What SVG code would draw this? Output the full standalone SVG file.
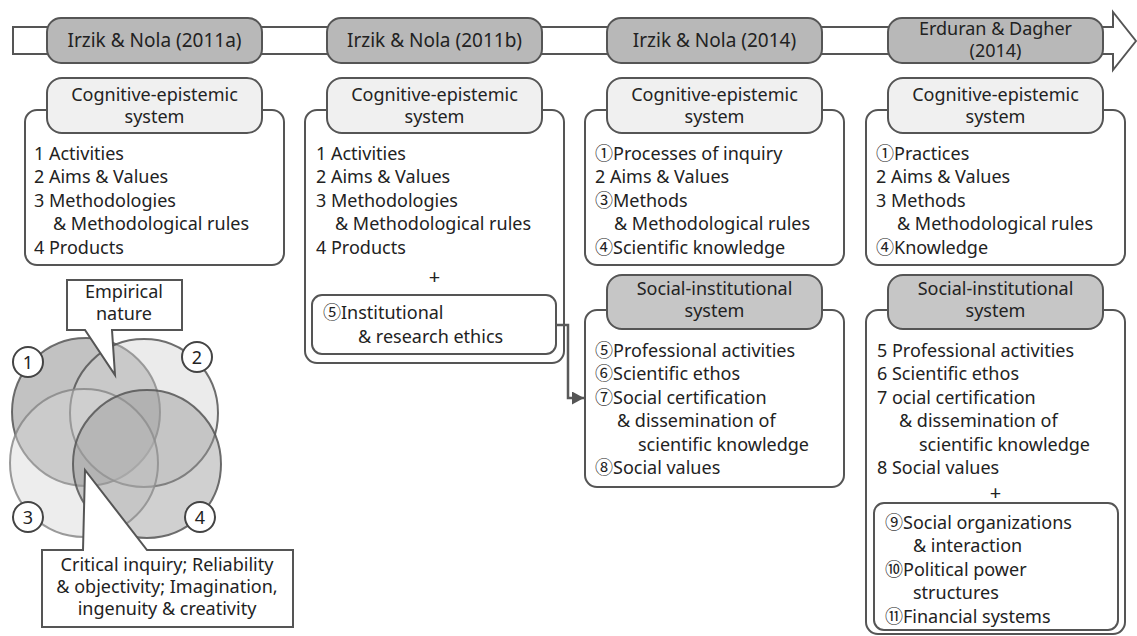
<svg xmlns="http://www.w3.org/2000/svg" width="1137" height="636" viewBox="0 0 1137 636">
<defs>
<style>
text{font-family:"Noto Sans","Noto Sans CJK KR",sans-serif;font-size:18px;fill:#222}
.c{text-anchor:middle}
.box{fill:#fff;stroke:#555;stroke-width:2}
.th{fill:#b8b8b8;stroke:#555;stroke-width:2}
.ch{fill:#f0f0f0;stroke:#555;stroke-width:2}
.sh{fill:#c6c6c6;stroke:#555;stroke-width:2}
.ven{stroke:#555;stroke-width:2;stroke-opacity:0.85}
.num{fill:#fff;stroke:#444;stroke-width:2}
.conn{fill:none;stroke:#5a5a5a;stroke-width:2.5}
</style>
<marker id="arr" markerWidth="12" markerHeight="13" refX="12" refY="6.5" orient="auto" markerUnits="userSpaceOnUse">
<path d="M0,0 L12,6.5 L0,13 Z" fill="#555"/>
</marker>
</defs>
<rect width="1137" height="636" fill="#fff"/>

<g id="timeline">
<polygon points="13,27 1113,27 1113,12 1136,41 1113,70 1113,54 13,54" fill="#fff" stroke="#555" stroke-width="2"/>
</g>
<g id="t1"><rect class="th" x="47" y="18" width="215" height="45" rx="14"/><text class="c" x="154.5" y="46.5" style="font-size:19px">Irzik &amp; Nola (2011a)</text></g>
<g id="t2"><rect class="th" x="327" y="18" width="215" height="45" rx="14"/><text class="c" x="434.5" y="46.5" style="font-size:19px">Irzik &amp; Nola (2011b)</text></g>
<g id="t3"><rect class="th" x="607" y="18" width="215" height="45" rx="14"/><text class="c" x="714.5" y="46.5" style="font-size:19px">Irzik &amp; Nola (2014)</text></g>
<g id="t4"><rect class="th" x="888" y="18" width="215" height="45" rx="14"/><text class="c" x="995.5" y="35"><tspan x="995.5">Erduran &amp; Dagher</tspan><tspan x="995.5" dy="22">(2014)</tspan></text></g>

<g id="col1-cog">
<rect class="box" x="25" y="110" width="259" height="155" rx="12"/>
<rect class="ch" x="47" y="78" width="215" height="55" rx="15"/>
<text class="c" x="154.5" y="101"><tspan x="154.5">Cognitive-epistemic</tspan><tspan x="154.5" dy="22">system</tspan></text>
<text x="34" y="159.5">1 Activities</text>
<text x="34" y="183">2 Aims &amp; Values</text>
<text x="34" y="206.5">3 Methodologies</text>
<text x="53" y="230">&amp; Methodological rules</text>
<text x="34" y="253.5">4 Products</text>
</g>

<g id="col2-cog">
<rect class="box" x="305" y="110" width="259" height="253" rx="12"/>
<rect class="ch" x="327" y="78" width="215" height="55" rx="15"/>
<text class="c" x="434.5" y="101"><tspan x="434.5">Cognitive-epistemic</tspan><tspan x="434.5" dy="22">system</tspan></text>
<text x="316" y="159.5">1 Activities</text>
<text x="316" y="183">2 Aims &amp; Values</text>
<text x="316" y="206.5">3 Methodologies</text>
<text x="335" y="230">&amp; Methodological rules</text>
<text x="316" y="253.5">4 Products</text>
<text class="c" x="434.5" y="284" style="font-size:20px">+</text>
</g>
<g id="col2-ethics">
<rect class="box" x="312" y="295" width="244" height="59" rx="10"/>
<text x="323" y="318.5">⑤Institutional</text>
<text x="358" y="342.5">&amp; research ethics</text>
</g>

<g id="col3-cog">
<rect class="box" x="585" y="110" width="259" height="155" rx="12"/>
<rect class="ch" x="607" y="78" width="215" height="55" rx="15"/>
<text class="c" x="714.5" y="101"><tspan x="714.5">Cognitive-epistemic</tspan><tspan x="714.5" dy="22">system</tspan></text>
<text x="595" y="159.5">①Processes of inquiry</text>
<text x="595" y="183">2 Aims &amp; Values</text>
<text x="595" y="206.5">③Methods</text>
<text x="614" y="230">&amp; Methodological rules</text>
<text x="595" y="253.5">④Scientific knowledge</text>
</g>

<g id="col3-soc">
<rect class="box" x="585" y="310" width="259" height="177" rx="12"/>
<rect class="sh" x="607" y="275" width="215" height="54" rx="15"/>
<text class="c" x="714.5" y="295"><tspan x="714.5">Social-institutional</tspan><tspan x="714.5" dy="22">system</tspan></text>
<text x="595" y="356.5">⑤Professional activities</text>
<text x="595" y="380">⑥Scientific ethos</text>
<text x="595" y="403.5">⑦Social certification</text>
<text x="617" y="427">&amp; dissemination of</text>
<text x="638" y="450.5">scientific knowledge</text>
<text x="595" y="474">⑧Social values</text>
</g>

<g id="col4-cog">
<rect class="box" x="866" y="110" width="259" height="155" rx="12"/>
<rect class="ch" x="888" y="78" width="215" height="55" rx="15"/>
<text class="c" x="995.5" y="101"><tspan x="995.5">Cognitive-epistemic</tspan><tspan x="995.5" dy="22">system</tspan></text>
<text x="876" y="159.5">①Practices</text>
<text x="876" y="183">2 Aims &amp; Values</text>
<text x="876" y="206.5">3 Methods</text>
<text x="897" y="230">&amp; Methodological rules</text>
<text x="876" y="253.5">④Knowledge</text>
</g>

<g id="col4-soc">
<rect class="box" x="866" y="310" width="259" height="324" rx="12"/>
<rect class="sh" x="888" y="275" width="215" height="54" rx="15"/>
<text class="c" x="995.5" y="295"><tspan x="995.5">Social-institutional</tspan><tspan x="995.5" dy="22">system</tspan></text>
<text x="877" y="356.5">5 Professional activities</text>
<text x="877" y="380">6 Scientific ethos</text>
<text x="877" y="403.5">7 ocial certification</text>
<text x="899" y="427">&amp; dissemination of</text>
<text x="919" y="450.5">scientific knowledge</text>
<text x="877" y="474">8 Social values</text>
<text class="c" x="995.5" y="500" style="font-size:20px">+</text>
</g>
<g id="col4-extra">
<rect class="box" x="874" y="503" width="244" height="127" rx="10"/>
<text x="885" y="528.5">⑨Social organizations</text>
<text x="913" y="552">&amp; interaction</text>
<text x="885" y="575.5">⑩Political power</text>
<text x="913" y="599">structures</text>
<text x="885" y="622.5">⑪Financial systems</text>
</g>

<g id="venn">
<circle class="ven" cx="86" cy="412" r="74" fill="rgba(120,120,120,0.45)"/>
<circle class="ven" cx="144" cy="413" r="74" fill="rgba(210,210,210,0.45)"/>
<circle class="ven" cx="84" cy="463" r="74" fill="rgba(215,215,215,0.45)" style="stroke:#888"/>
<circle class="ven" cx="147" cy="464" r="74" fill="rgba(150,150,150,0.45)"/>
</g>
<g id="n1"><circle class="num" cx="28" cy="362" r="15"/><text class="c" x="28" y="368.5">1</text></g>
<g id="n2"><circle class="num" cx="197" cy="357" r="15"/><text class="c" x="197" y="363.5">2</text></g>
<g id="n3"><circle class="num" cx="28" cy="517" r="15"/><text class="c" x="28" y="523.5">3</text></g>
<g id="n4"><circle class="num" cx="200" cy="517" r="15"/><text class="c" x="200" y="523.5">4</text></g>

<g id="empirical">
<path class="box" d="M67,280 H182 V330 H112 L115,375 L85,330 H67 Z"/>
<text class="c" x="124" y="297.5"><tspan x="124">Empirical</tspan><tspan x="124" dy="22">nature</tspan></text>
</g>
<g id="critical">
<path class="box" d="M42,550 H83 L85,470 L147,550 H293 V627 H42 Z"/>
<text class="c" x="167" y="571"><tspan x="167">Critical inquiry; Reliability</tspan><tspan x="167" dy="22">&amp; objectivity; Imagination,</tspan><tspan x="167" dy="22">ingenuity &amp; creativity</tspan></text>
</g>

<g id="connectors">
<path class="conn" d="M556,325 H568 V398 H584" marker-end="url(#arr)"/>
</g>
</svg>
